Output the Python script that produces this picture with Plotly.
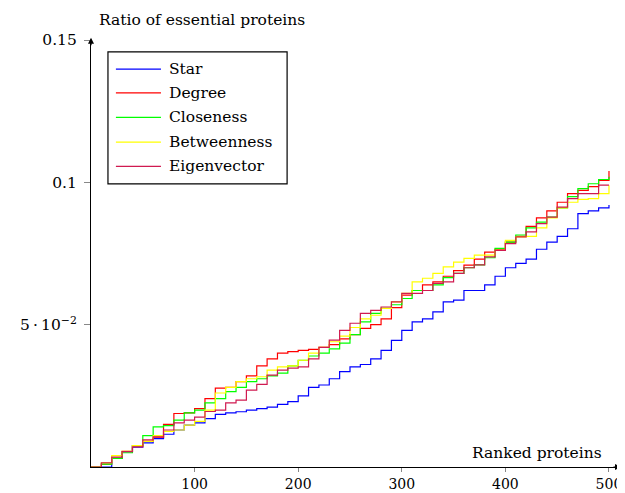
import plotly.graph_objects as go

ranks = list(range(0, 501, 10))

star = [0, 0.0, 0.003, 0.0054, 0.007, 0.0085, 0.0100, 0.0115, 0.013, 0.0147,
        0.0155, 0.017, 0.0185, 0.019, 0.0194, 0.020, 0.0205, 0.021, 0.022, 0.023,
        0.025, 0.028, 0.0288, 0.031, 0.0335, 0.0352, 0.036, 0.038, 0.041, 0.0445,
        0.048, 0.051, 0.052, 0.0545, 0.058, 0.0586, 0.062, 0.062, 0.064, 0.067,
        0.070, 0.0715, 0.073, 0.0765, 0.079, 0.081, 0.0837, 0.089, 0.090, 0.091,
        0.092]
degree = [0, 0.001, 0.003, 0.0055, 0.0075, 0.009, 0.0105, 0.015, 0.0188, 0.019,
          0.0205, 0.024, 0.0277, 0.028, 0.030, 0.032, 0.0355, 0.038, 0.040, 0.0405,
          0.041, 0.0413, 0.042, 0.043, 0.045, 0.0465, 0.0487, 0.050, 0.052, 0.056,
          0.0604, 0.062, 0.064, 0.065, 0.067, 0.069, 0.0709, 0.073, 0.0755, 0.0765,
          0.079, 0.081, 0.0845, 0.0875, 0.090, 0.093, 0.096, 0.0972, 0.0985, 0.1007,
          0.104]
closeness = [0, 0.001, 0.003, 0.005, 0.0075, 0.011, 0.0141, 0.0145, 0.0165, 0.019,
             0.020, 0.0225, 0.024, 0.0265, 0.028, 0.030, 0.031, 0.032, 0.033, 0.0355,
             0.0375, 0.039, 0.040, 0.0415, 0.0435, 0.0465, 0.051, 0.054, 0.0557, 0.057,
             0.0592, 0.062, 0.062, 0.064, 0.0665, 0.068, 0.070, 0.071, 0.0735, 0.0768,
             0.079, 0.0815, 0.084, 0.086, 0.0878, 0.091, 0.095, 0.0978, 0.0995, 0.101,
             0.102]
betweenness = [0, 0.0015, 0.004, 0.0055, 0.0075, 0.009, 0.011, 0.0125, 0.013, 0.0147,
               0.016, 0.020, 0.026, 0.028, 0.030, 0.031, 0.0317, 0.034, 0.0352, 0.0355,
               0.0375, 0.040, 0.042, 0.044, 0.046, 0.049, 0.052, 0.0533, 0.0557, 0.058,
               0.061, 0.065, 0.0663, 0.068, 0.0703, 0.072, 0.0733, 0.0744, 0.0744, 0.0761,
               0.0796, 0.0808, 0.081, 0.084, 0.0875, 0.091, 0.093, 0.094, 0.0943, 0.096,
               0.099]
eigenvector = [0, 0.0015, 0.0035, 0.0054, 0.0071, 0.0095, 0.0106, 0.013, 0.0155, 0.0165,
               0.0175, 0.0195, 0.020, 0.0225, 0.0235, 0.027, 0.029, 0.0323, 0.034, 0.0347,
               0.0352, 0.038, 0.042, 0.0446, 0.048, 0.0505, 0.054, 0.055, 0.0562, 0.058,
               0.061, 0.061, 0.062, 0.0645, 0.065, 0.068, 0.070, 0.071, 0.0738, 0.0761,
               0.0785, 0.0808, 0.0826, 0.0855, 0.0878, 0.0913, 0.0943, 0.096, 0.096, 0.099,
               0.099]

series_names = ["Star", "Degree", "Closeness", "Betweenness", "Eigenvector"]
series_values = [star, degree, closeness, betweenness, eigenvector]
colors = ["#0000FF", "#FF0000", "#00FF00", "#FFFF00", "#D01A50"]

x_tickvals = [100, 200, 300, 400, 500]
x_ticktext = ["100", "200", "300", "400", "500"]
y_tickvals = [0.05, 0.1, 0.15]
y_ticktext = ["5\u2009·\u200910<sup>−2</sup>", "0.1", "0.15"]

FONT = "DejaVu Serif"
FS = 15.5
TFS = 14

fig = go.Figure()
for name, vals, col in zip(series_names, series_values, colors):
    fig.add_trace(go.Scatter(
        x=ranks, y=vals, name=name, mode="lines",
        line=dict(color=col, width=1.2, shape="hv"),
        showlegend=False,
    ))

# custom legend box (paper coordinates)
shapes = [dict(type="rect", xref="paper", yref="paper",
               x0=0.032, x1=0.370, y0=0.663, y1=0.972,
               line=dict(color="black", width=1.2), fillcolor="white", layer="above")]
annotations = []
leg_y = [0.932, 0.876, 0.819, 0.761, 0.704]
for name, col, yy in zip(series_names, colors, leg_y):
    shapes.append(dict(type="line", xref="paper", yref="paper",
                       x0=0.047, x1=0.132, y0=yy, y1=yy,
                       line=dict(color=col, width=1.3), layer="above"))
    annotations.append(dict(text=name, xref="paper", yref="paper", x=0.144, y=yy,
                            xanchor="left", yanchor="middle", showarrow=False,
                            font=dict(family=FONT, size=FS)))

annotations += [
    dict(text="Ratio of essential proteins", xref="paper", yref="paper",
         x=0.011, y=1.0, xanchor="left", yanchor="middle", yshift=20,
         showarrow=False, font=dict(family=FONT, size=FS)),
    dict(text="Ranked proteins", xref="paper", yref="paper",
         x=0.967, y=0.0, xanchor="right", yanchor="middle", yshift=14,
         showarrow=False, font=dict(family=FONT, size=FS)),
    dict(x=1, y=0, xref="paper", yref="paper", ax=-9, ay=0,
         text="", showarrow=True, arrowhead=2, arrowsize=1,
         arrowwidth=1.2, arrowcolor="black"),
    dict(x=0, y=1.005, xref="paper", yref="paper", ax=0, ay=9,
         text="", showarrow=True, arrowhead=2, arrowsize=1,
         arrowwidth=1.2, arrowcolor="black"),
]

# the page body adds an 8px offset, so the figure is sized/offset to compensate
fig.update_layout(
    width=617, height=485,
    margin=dict(l=83, r=4, t=32, b=26, autoexpand=False),
    plot_bgcolor="white", paper_bgcolor="white",
    font=dict(family=FONT, size=FS, color="black"),
    showlegend=False,
    xaxis=dict(
        range=[0, 511.6], showgrid=False, zeroline=False, automargin=False,
        showline=True, linecolor="black", linewidth=1.2,
        tickvals=x_tickvals, ticktext=x_ticktext,
        ticks="outside", ticklen=4, tickcolor="#888888",
        tickfont=dict(family=FONT, size=TFS),
    ),
    yaxis=dict(
        range=[0, 0.15], showgrid=False, zeroline=False, automargin=False,
        showline=True, linecolor="black", linewidth=1.2,
        tickvals=y_tickvals, ticktext=y_ticktext,
        ticks="outside", ticklen=6, tickcolor="#888888",
        ticklabelstandoff=4,
        tickfont=dict(family=FONT, size=FS),
    ),
    shapes=shapes,
    annotations=annotations,
)

fig.write_html("out.html")
